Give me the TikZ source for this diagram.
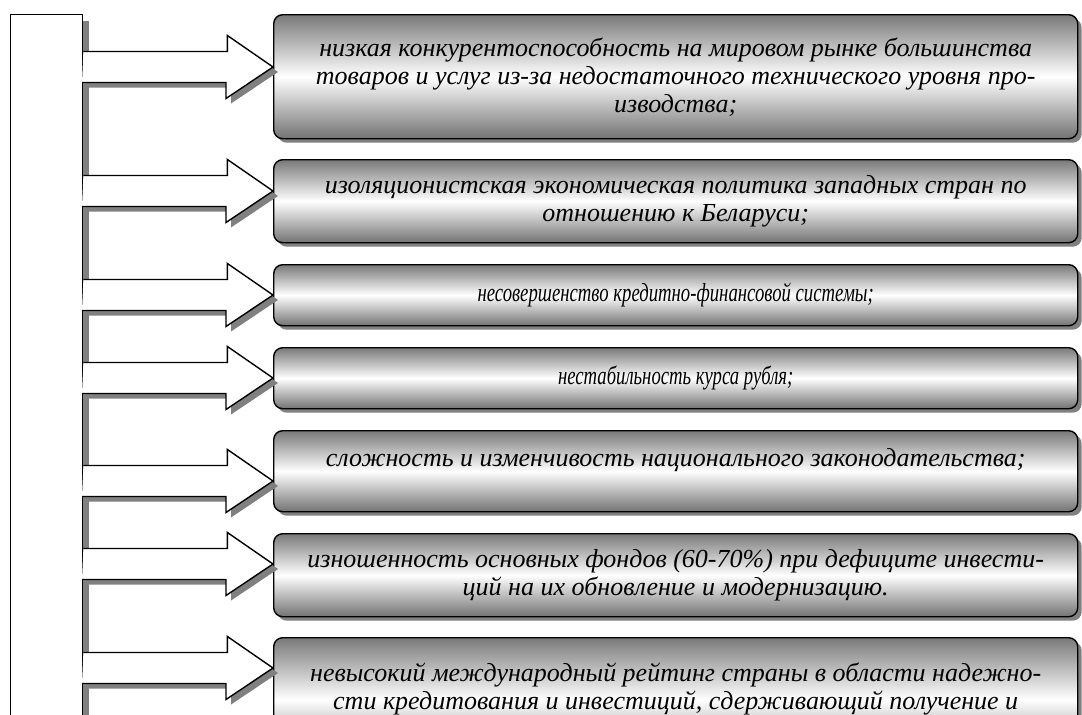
\documentclass[tikz,border=0pt]{standalone}
\usepackage{graphicx}
\usepackage{fontspec}
\setmainfont{Liberation Serif}
\usetikzlibrary{shadows,calc}

\newcommand{\narrow}[1]{\scalebox{0.72}[1]{#1}}

\tikzset{
  bar/.style={draw=black,fill=white,line width=1.4pt,anchor=north west,
    minimum width=72pt,minimum height=720pt,inner sep=0pt,
    drop shadow={shadow xshift=6pt,shadow yshift=-6pt,fill=gray,opacity=1}},
  factor/.style={draw=black,line width=1.4pt,rounded corners=9pt,
    top color=gray!95!black,bottom color=gray!90!black,middle color=white,
    anchor=north west,minimum width=804pt,align=center,
    inner xsep=0pt,inner ysep=0pt,
    font=\itshape\fontsize{26}{28}\selectfont,
    drop shadow={shadow xshift=4pt,shadow yshift=-4pt,fill=gray,opacity=1}},
  pointer/.style={draw=black,fill=white,line width=1.4pt,line join=miter,
    drop shadow={shadow xshift=5pt,shadow yshift=-5pt,fill=gray,opacity=1}}
}

\begin{document}
\begin{tikzpicture}[x=1pt,y=-1pt]
  \useasboundingbox (0,0) rectangle (1082,715);
  \clip (0,0) rectangle (1082,715);

  \node[bar] (bar) at (10,14) {};

  % factors
  \node[factor,minimum height=124pt] (f1) at (273,14) {низкая конкурентоспособность на мировом рынке большинства\\
    товаров и услуг из-за недостаточного технического уровня про-\\ изводства;};
  \node[factor,minimum height=83pt] (f2) at (273,159) {изоляционистская экономическая политика западных стран по\\
    отношению к Беларуси;};
  \node[factor,minimum height=61pt] (f3) at (273,264) {\narrow{несовершенство кредитно-финансовой системы;}};
  \node[factor,minimum height=61pt] (f4) at (273,347) {\narrow{нестабильность курса рубля;}};
  \node[factor,minimum height=81pt] (f5) at (273,430) {сложность и изменчивость национального законодательства;\\ \mbox{}};
  \node[factor,minimum height=83pt] (f6) at (273,533) {изношенность основных фондов (60-70\%) при дефиците инвести-\\
    ций на их обновление и модернизацию.};
  \node[factor,minimum height=124pt] (f7) at (273,637) {невысокий международный рейтинг страны в области надежно-\\
    сти кредитования и инвестиций, сдерживающий получение и\\ \mbox{}};

  % arrows from the bar
  \foreach \f/\d in {f1/53,f2/32,f3/31,f4/31,f5/51,f6/31,f7/31}{
    \coordinate (t) at ($(\f.north west)+(0,\d)$);
    \coordinate (s) at ($(bar.east |- t)+(0,-15.5)$);
    \draw[pointer] (s) -- ++(144,0) -- ++(0,-16) -- (t) -- ++(-47,31.5)
      -- ++(0,-16) -- ++(-144,0);
  }
\end{tikzpicture}
\end{document}
